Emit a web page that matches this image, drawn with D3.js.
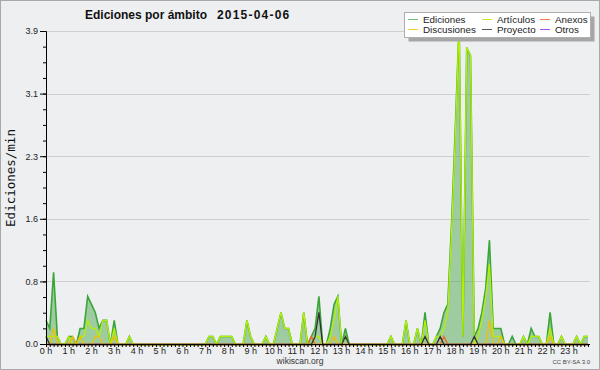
<!DOCTYPE html>
<html>
<head>
<meta charset="utf-8">
<script src="https://cdn.jsdelivr.net/npm/d3@7"></script>
<style>
  body { margin: 0; background: #eeeff1; }
  svg { display: block; font-family: "Liberation Sans", sans-serif; }
</style>
</head>
<body>
<svg class="graph" width="600" height="370"></svg>
<script>
// edits per minute, one value per 10 minutes (0:00 ... 23:50), one row per hour
var ediciones = [
  0.3, 0.2, 0.9, 0.1, 0, 0,
  0.1, 0.1, 0, 0.2, 0.2, 0.6,
  0.5, 0.4, 0.2, 0.3, 0.3, 0,
  0.3, 0, 0, 0, 0.1, 0,
  0, 0, 0, 0, 0, 0,
  0, 0, 0, 0, 0, 0,
  0, 0, 0, 0, 0, 0,
  0, 0.1, 0.1, 0, 0.1, 0.1,
  0.1, 0.1, 0, 0, 0, 0.3,
  0.1, 0, 0, 0, 0.1, 0,
  0, 0.2, 0.4, 0.2, 0.2, 0,
  0, 0, 0.4, 0, 0.1, 0.2,
  0.6, 0, 0, 0.2, 0.5, 0.6,
  0, 0.2, 0, 0, 0, 0,
  0, 0, 0, 0, 0, 0,
  0, 0.1, 0, 0, 0, 0.3,
  0, 0, 0.2, 0, 0.4, 0,
  0, 0.1, 0.2, 0.4, 0.5, 1.5,
  2.7, 4.0, 0.1, 3.7, 3.6, 0.1,
  0.2, 0.4, 0.7, 1.3, 0.2, 0.2,
  0.2, 0, 0, 0.1, 0, 0,
  0.1, 0, 0.2, 0.1, 0.1, 0,
  0, 0.4, 0, 0, 0.1, 0,
  0, 0, 0.1, 0, 0.1, 0.1
];
var articulos = [
  0.1, 0.1, 0.1, 0.1, 0, 0,
  0.1, 0, 0, 0.1, 0.1, 0.3,
  0.2, 0.2, 0.1, 0.3, 0.3, 0,
  0.2, 0, 0, 0, 0.1, 0,
  0, 0, 0, 0, 0, 0,
  0, 0, 0, 0, 0, 0,
  0, 0, 0, 0, 0, 0,
  0, 0.1, 0.1, 0, 0.1, 0.1,
  0.1, 0.1, 0, 0, 0, 0.3,
  0.1, 0, 0, 0, 0.1, 0,
  0, 0.2, 0.4, 0.2, 0.2, 0,
  0, 0, 0.4, 0, 0, 0.1,
  0.1, 0, 0, 0.1, 0.3, 0.6,
  0, 0.1, 0, 0, 0, 0,
  0, 0, 0, 0, 0, 0,
  0, 0.1, 0, 0, 0, 0.3,
  0, 0, 0.2, 0, 0.3, 0,
  0, 0.1, 0.1, 0.2, 0.4, 1.4,
  2.6, 4.0, 0.1, 3.7, 3.6, 0,
  0.1, 0.3, 0.6, 1.0, 0.1, 0.1,
  0.1, 0, 0, 0, 0, 0,
  0.1, 0, 0.1, 0.1, 0.1, 0,
  0, 0.2, 0, 0, 0.1, 0,
  0, 0, 0.1, 0, 0.1, 0.1
];
var discusiones = [
  0, 0, 0.2, 0, 0, 0,
  0, 0.1, 0, 0.1, 0, 0,
  0, 0.1, 0.1, 0, 0, 0,
  0.1, 0, 0, 0, 0, 0,
  0, 0, 0, 0, 0, 0,
  0, 0, 0, 0, 0, 0,
  0, 0, 0, 0, 0, 0,
  0, 0, 0, 0, 0, 0,
  0, 0, 0, 0, 0, 0,
  0, 0, 0, 0, 0, 0,
  0, 0, 0, 0, 0, 0,
  0, 0, 0, 0, 0, 0,
  0, 0, 0, 0, 0.1, 0,
  0, 0, 0, 0, 0, 0,
  0, 0, 0, 0, 0, 0,
  0, 0, 0, 0, 0, 0,
  0, 0, 0, 0, 0, 0,
  0, 0, 0, 0, 0, 0,
  0, 0, 0, 0, 0, 0,
  0, 0, 0, 0.3, 0, 0,
  0.1, 0, 0, 0, 0, 0,
  0, 0, 0, 0, 0, 0,
  0, 0.1, 0, 0, 0, 0,
  0, 0, 0, 0, 0, 0
];
var anexos = [
  0, 0, 0, 0, 0, 0,
  0, 0, 0, 0, 0, 0,
  0, 0, 0, 0, 0, 0,
  0, 0, 0, 0, 0, 0,
  0, 0, 0, 0, 0, 0,
  0, 0, 0, 0, 0, 0,
  0, 0, 0, 0, 0, 0,
  0, 0, 0, 0, 0, 0,
  0, 0, 0, 0, 0, 0,
  0, 0, 0, 0, 0, 0,
  0, 0, 0, 0, 0, 0,
  0, 0, 0, 0, 0.1, 0,
  0, 0, 0, 0, 0, 0,
  0, 0, 0, 0, 0, 0,
  0, 0, 0, 0, 0, 0,
  0, 0, 0, 0, 0, 0,
  0, 0, 0, 0, 0, 0,
  0, 0, 0, 0.1, 0, 0,
  0, 0, 0, 0, 0, 0,
  0, 0, 0, 0, 0, 0,
  0, 0, 0, 0, 0, 0,
  0, 0, 0, 0, 0, 0,
  0, 0, 0, 0, 0, 0,
  0, 0, 0, 0, 0, 0
];
var proyecto = [
  0.1, 0, 0, 0, 0, 0,
  0, 0, 0, 0, 0, 0,
  0, 0, 0, 0, 0, 0,
  0, 0, 0, 0, 0, 0,
  0, 0, 0, 0, 0, 0,
  0, 0, 0, 0, 0, 0,
  0, 0, 0, 0, 0, 0,
  0, 0, 0, 0, 0, 0,
  0, 0, 0, 0, 0, 0,
  0, 0, 0, 0, 0, 0,
  0, 0, 0, 0, 0, 0,
  0, 0, 0, 0, 0, 0.1,
  0.4, 0, 0, 0, 0, 0,
  0, 0.1, 0, 0, 0, 0,
  0, 0, 0, 0, 0, 0,
  0, 0, 0, 0, 0, 0,
  0, 0, 0, 0, 0.1, 0,
  0, 0, 0.1, 0, 0, 0,
  0, 0, 0, 0, 0, 0.1,
  0, 0, 0, 0, 0, 0,
  0, 0, 0, 0, 0, 0,
  0, 0, 0, 0, 0, 0,
  0, 0, 0, 0, 0, 0,
  0, 0, 0, 0, 0, 0
];
var otros = [
  0, 0, 0, 0, 0, 0, 0, 0, 0, 0, 0, 0, 0, 0, 0, 0, 0, 0, 0, 0, 0, 0, 0, 0,
  0, 0, 0, 0, 0, 0, 0, 0, 0, 0, 0, 0, 0, 0, 0, 0, 0, 0, 0, 0, 0, 0, 0, 0,
  0, 0, 0, 0, 0, 0, 0, 0, 0, 0, 0, 0, 0, 0, 0, 0, 0, 0, 0, 0, 0, 0, 0, 0,
  0, 0, 0, 0, 0, 0, 0, 0, 0, 0, 0, 0, 0, 0, 0, 0, 0, 0, 0, 0, 0, 0, 0, 0,
  0, 0, 0, 0, 0, 0, 0, 0, 0, 0, 0, 0, 0, 0, 0, 0, 0, 0, 0, 0, 0, 0, 0, 0,
  0, 0, 0, 0, 0, 0, 0, 0, 0, 0, 0, 0, 0, 0, 0, 0, 0, 0, 0, 0, 0, 0, 0, 0
];

var yTicks = [0, 0.78, 1.56, 2.34, 3.12, 3.9];
var yLabels = ["0.0", "0.8", "1.6", "2.3", "3.1", "3.9"];
var hours = d3.range(24);

var series = [
  {name: "Ediciones",   values: ediciones,   color: "#6cc46c"},
  {name: "Discusiones", values: discusiones, color: "#f5cc30"},
  {name: "Artículos",   values: articulos,   color: "#c2ee30"},
  {name: "Proyecto",    values: proyecto,    color: "#555555"},
  {name: "Anexos",      values: anexos,      color: "#f08048"},
  {name: "Otros",       values: otros,       color: "#a050f0"}
];

var svg = d3.select(".graph");
var width = 600, height = 370;
var plotLeft = 46, plotRight = 588, plotTop = 31, plotBottom = 344;

var x = d3.scaleLinear().domain([0, ediciones.length - 1]).range([plotLeft, plotRight]);
var y = d3.scaleLinear().domain([0, 3.9]).range([plotBottom, plotTop]);

svg.append("rect")
  .attr("x", 0.5).attr("y", 0.5)
  .attr("width", width - 1).attr("height", height - 1)
  .attr("fill", "#eeeff1").attr("stroke", "#a8a8a8");

// grid
svg.append("g")
  .selectAll("line")
  .data(yTicks.slice(1))
  .enter().append("line")
  .attr("x1", plotLeft).attr("x2", plotRight + 2)
  .attr("y1", function (d) { return Math.round(y(d)) + 0.5; })
  .attr("y2", function (d) { return Math.round(y(d)) + 0.5; })
  .attr("stroke", "#cfcfcf");

// total as a filled area
var area = d3.area()
  .x(function (d, i) { return x(i); })
  .y0(y(0) + 0.5)
  .y1(function (d) { return y(d) + 0.5; });
var line = d3.line()
  .x(function (d, i) { return x(i); })
  .y(function (d) { return y(d) + 0.5; });

svg.append("path")
  .attr("d", area(ediciones))
  .attr("fill", "#3f9f3f")
  .attr("fill-opacity", 0.45);
svg.append("path")
  .attr("d", line(ediciones))
  .attr("fill", "none")
  .attr("stroke", "#3aa63a")
  .attr("stroke-width", 1.6);

var lineColors = {"Artículos": "#b4f000", "Anexos": "#f06a20", "Discusiones": "#f0c000", "Proyecto": "#333333", "Otros": "#9040f0"};
["Otros", "Anexos", "Artículos", "Discusiones", "Proyecto"].forEach(function (n) {
  var s = series.find(function (d) { return d.name === n; });
  svg.append("path")
    .attr("d", line(s.values))
    .attr("fill", "none")
    .attr("stroke", lineColors[n])
    .attr("stroke-width", 1.3);
});

// axes
svg.append("g")
  .attr("transform", "translate(" + plotLeft + ",0)")
  .call(d3.axisLeft(y).tickValues(yTicks).tickSize(6).tickPadding(2)
    .tickFormat(function (d, i) { return yLabels[i]; }));
svg.append("g")
  .attr("transform", "translate(" + plotLeft + ",0)")
  .call(d3.axisLeft(y).tickValues(d3.range(20).map(function (k) { return k * 0.195; })).tickSize(3).tickFormat(""))
  .select(".domain").remove();

var xAxis = svg.append("g")
  .attr("transform", "translate(0," + plotBottom + ")")
  .call(d3.axisBottom(x).tickValues(d3.range(ediciones.length)).tickSize(3).tickSizeOuter(0).tickFormat(""));
xAxis.select(".domain").attr("d", "M" + (plotLeft - 3) + ",0.5H" + (plotRight + 2));

svg.append("g")
  .selectAll("text")
  .data(hours)
  .enter().append("text")
  .attr("x", function (d) { return x(d * 6); })
  .attr("y", 354)
  .attr("text-anchor", "middle")
  .attr("font-size", 9)
  .attr("fill", "#222")
  .text(function (d) { return d + " h"; });

svg.selectAll(".tick text").attr("font-size", 9).attr("fill", "#222").attr("font-family", "Liberation Sans");
svg.selectAll(".domain, .tick line").attr("stroke", "#000");

// titles
svg.append("text")
  .attr("x", 85).attr("y", 19)
  .attr("font-size", 12).attr("font-weight", "bold")
  .attr("fill", "#111")
  .text("Ediciones por ámbito");
svg.append("text")
  .attr("x", 217).attr("y", 19)
  .attr("font-size", 12).attr("font-weight", "bold")
  .attr("letter-spacing", 1.2)
  .attr("fill", "#111")
  .text("2015-04-06");

svg.append("text")
  .attr("transform", "translate(15,178) rotate(-90)")
  .attr("text-anchor", "middle")
  .attr("font-family", "DejaVu Sans Mono")
  .attr("font-size", 12.5)
  .attr("fill", "#111")
  .text("Ediciones/min");

svg.append("text")
  .attr("x", 300).attr("y", 364)
  .attr("text-anchor", "middle")
  .attr("font-size", 8.5).attr("fill", "#333")
  .text("wikiscan.org");

svg.append("text")
  .attr("x", 590).attr("y", 364)
  .attr("text-anchor", "end")
  .attr("font-size", 6).attr("fill", "#444")
  .text("CC BY-SA 3.0");

// legend
var legend = svg.append("g");
legend.append("rect")
  .attr("x", 408.5).attr("y", 16.5).attr("width", 186).attr("height", 25)
  .attr("fill", "#a6a6a6");
legend.append("rect")
  .attr("x", 404.5).attr("y", 12.5).attr("width", 186).attr("height", 25)
  .attr("fill", "#fff").attr("stroke", "#b0b0b0");

var cols = [408, 482, 540];
var rows = [19, 29];
series.forEach(function (s, k) {
  var cx = cols[Math.floor(k / 2)], cy = rows[k % 2];
  legend.append("line")
    .attr("x1", cx).attr("x2", cx + 10)
    .attr("y1", cy + 0.5).attr("y2", cy + 0.5)
    .attr("stroke", s.color).attr("stroke-width", 1);
  legend.append("text")
    .attr("x", cx + 15).attr("y", cy + 4)
    .attr("font-size", 9.8).attr("fill", "#222")
    .text(s.name);
});
</script>
</body>
</html>
